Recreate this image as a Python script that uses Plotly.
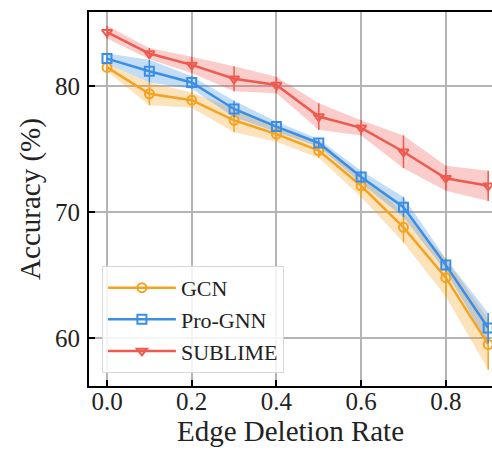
import plotly.graph_objects as go

rates = [0.0, 0.1, 0.2, 0.3, 0.4, 0.5, 0.6, 0.7, 0.8, 0.9]

gcn_mean = [81.5, 79.4, 78.9, 77.3, 76.2, 74.9, 72.1, 68.8, 64.8, 59.5]
gcn_std = [0.3, 0.9, 0.6, 0.95, 0.6, 0.6, 0.9, 1.2, 1.5, 2.0]

prognn_mean = [82.2, 81.2, 80.3, 78.2, 76.8, 75.5, 72.8, 70.4, 65.8, 60.8]
prognn_std = [0.4, 0.9, 0.5, 0.65, 0.4, 0.3, 0.5, 0.8, 0.5, 1.2]

sublime_mean = [84.3, 82.6, 81.7, 80.6, 80.1, 77.6, 76.7, 74.8, 72.7, 72.1]
sublime_std = [0.5, 0.45, 0.65, 1.0, 0.65, 1.05, 0.6, 1.3, 1.0, 1.2]

series = [
    ("GCN", gcn_mean, gcn_std, "#F4A321", "rgba(244,163,33,0.3)", "circle-open"),
    ("Pro-GNN", prognn_mean, prognn_std, "#3A8EE6", "rgba(58,142,230,0.3)", "square-open"),
    ("SUBLIME", sublime_mean, sublime_std, "#EE5A4F", "rgba(238,90,79,0.3)", "triangle-down-open"),
]

FONT = "Liberation Serif"

fig = go.Figure()

for name, m, s, col, fillcol, sym in series:
    upper = [a + b for a, b in zip(m, s)]
    lower = [a - b for a, b in zip(m, s)]
    fig.add_trace(go.Scatter(
        x=rates + rates[::-1], y=upper + lower[::-1],
        fill="toself", fillcolor=fillcol, line=dict(width=0),
        mode="lines", hoverinfo="skip", showlegend=False,
    ))

for name, m, s, col, fillcol, sym in series:
    fig.add_trace(go.Scatter(
        x=rates, y=m, name=name, mode="lines+markers",
        line=dict(color=col, width=2.5),
        marker=dict(symbol=sym, size=9, color=col, line=dict(width=2, color=col)),
        error_y=dict(type="data", array=s, visible=True, color=col, thickness=1.5, width=0),
    ))

fig.update_layout(
    width=492, height=451,
    margin=dict(l=89, r=0, t=12, b=65, autoexpand=False),
    plot_bgcolor="white", paper_bgcolor="white",
    font=dict(family=FONT, color="#222222", size=25),
    showlegend=True,
    legend=dict(
        x=0.032, y=0.035, xanchor="left", yanchor="bottom",
        bgcolor="rgba(255,255,255,0.85)", bordercolor="#d8d8d8", borderwidth=1,
        font=dict(family=FONT, size=22, color="#222222"),
        itemwidth=68, tracegroupgap=0,
    ),
)

fig.update_xaxes(
    range=[-0.0425, 0.909],
    tickvals=[0.0, 0.2, 0.4, 0.6, 0.8],
    ticktext=["0.0", "0.2", "0.4", "0.6", "0.8"],
    showgrid=True, gridcolor="#b4b4b4", gridwidth=1.5,
    showline=True, linecolor="black", linewidth=2, mirror=True,
    ticks="inside", ticklen=6, tickwidth=1.5, tickcolor="black",
    ticklabelstandoff=-8,
    tickfont=dict(family=FONT, size=25, color="#222222"),
    title=dict(text="Edge Deletion Rate", font=dict(family=FONT, size=29, color="#222222"), standoff=2),
    zeroline=False, automargin=False,
)
fig.update_yaxes(
    range=[56.2, 85.9],
    tickvals=[60, 70, 80],
    showgrid=True, gridcolor="#b4b4b4", gridwidth=1.5,
    showline=True, linecolor="black", linewidth=2, mirror=False,
    ticks="inside", ticklen=6, tickwidth=1.5, tickcolor="black",
    ticklabelstandoff=2,
    tickfont=dict(family=FONT, size=25, color="#222222"),
    title=dict(text="Accuracy (%)", font=dict(family=FONT, size=29, color="#222222"), standoff=6),
    zeroline=False, automargin=False,
)

fig.write_html(
    "out.html",
    config={"displayModeBar": False},
    post_script="document.body.style.margin='0';document.body.style.overflow='hidden';",
)
